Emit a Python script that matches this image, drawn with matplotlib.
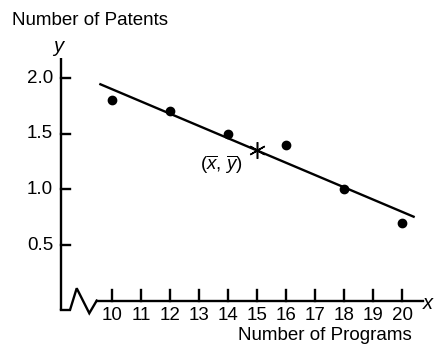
import matplotlib
matplotlib.use("Agg")
import matplotlib.pyplot as plt
import numpy as np

plt.rcParams['font.family'] = ['Liberation Sans', 'DejaVu Sans']
plt.rcParams['mathtext.fontset'] = 'custom'
plt.rcParams['mathtext.rm'] = 'Liberation Sans'
plt.rcParams['mathtext.it'] = 'Liberation Sans:italic'

# programs vs patents
programs = [10, 12, 14, 16, 18, 20]
patents = [1.8, 1.7, 1.5, 1.4, 1.0, 0.7]
x_ticks = [10, 11, 12, 13, 14, 15, 16, 17, 18, 19, 20]
y_ticks = [0.5, 1.0, 1.5, 2.0]

slope, intercept = np.polyfit(programs, patents, 1)
x_mean = np.mean(programs)
y_mean = np.mean(patents)

fig = plt.figure(figsize=(4.38, 3.46), dpi=100)
ax = fig.add_axes([0, 0, 1, 1])
ax.set_xlim(6.138, 21.241)
ax.set_ylim(-0.404, 2.700)
ax.axis('off')

lw = 1.7
fs = 13.5

# hand-drawn axes with a break near the origin
ax.plot([8.24, 8.24], [2.18, -0.081], color='black', lw=lw, solid_capstyle='butt')
ax.plot([8.24, 8.552, 8.783, 9.217, 9.472], [-0.081, -0.081, 0.114, -0.110, 0.003],
        color='black', lw=lw, solid_joinstyle='miter')
ax.plot([9.472, 20.724], [0.003, 0.003], color='black', lw=lw)

for t in y_ticks:
    ax.plot([8.24, 8.55], [t, t], color='black', lw=lw)
    ax.text(7.966, t, f"{t:.1f}", ha='right', va='center', fontsize=fs)
for t in x_ticks:
    ax.plot([t, t], [0, 0.099], color='black', lw=lw)
    ax.text(t, -0.055, str(t), ha='center', va='top', fontsize=fs)

# regression line through the mean point
xl = np.array([9.6, 20.4])
ax.plot(xl, slope * xl + intercept, color='black', lw=lw)
ax.plot(programs, patents, 'o', color='black', markersize=6)
ax.plot([x_mean], [y_mean], marker=(6, 2, 0), color='black', markersize=12, mew=1.1)
ax.text(13.79, 1.22, r'$(\overline{x},\, \overline{y})$', ha='center', va='center', fontsize=fs)

ax.text(8.138, 2.287, 'y', style='italic', ha='center', va='center', fontsize=fs + 1)
ax.text(20.897, -0.027, 'x', style='italic', ha='center', va='center', fontsize=fs + 1)
ax.text(6.552, 2.475, 'Number of Patents', ha='left', va='baseline', fontsize=fs)
ax.text(20.345, -0.350, 'Number of Programs', ha='right', va='baseline', fontsize=fs)

fig.savefig('out.png', dpi=100)
